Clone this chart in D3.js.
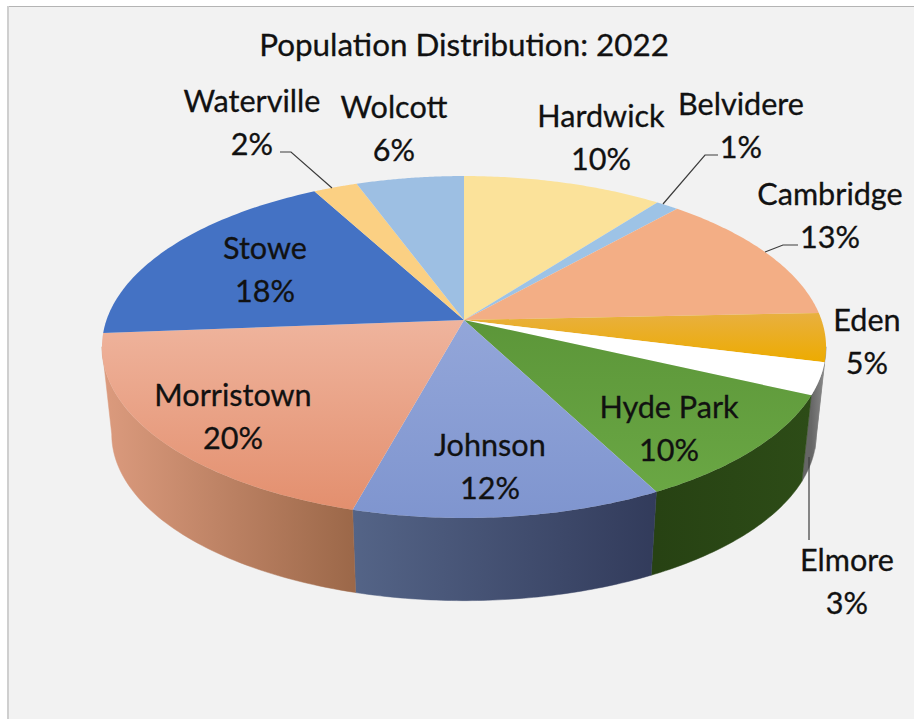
<!DOCTYPE html>
<html><head><meta charset="utf-8">
<style>html,body{margin:0;padding:0;background:#fff}svg{display:block}</style>
<script src="https://cdnjs.cloudflare.com/ajax/libs/d3/7.8.5/d3.min.js"></script>
</head><body><svg id="c" width="914" height="719"></svg>
<script>
const title = "Population Distribution: 2022";
const categories = ["Hardwick","Belvidere","Cambridge","Eden","Elmore","Hyde Park","Johnson","Morristown","Stowe","Waterville","Wolcott"];
const shares = [10.4,1.2,12.7,4.6,3.0,10.4,11.9,19.5,18.3,2.3,5.6];

const faceTop = ["#fbe29a","#9dc3e6","#f3ae85","#e8b040","#ffffff","#5c9639","#93a6d9","#efb49d","#4472c4","#fbd083","#9dbfe3"];
const faceBottom = ["#fbe29a","#9dc3e6","#f3ae85","#edab00","#ffffff","#6aa744","#7f95cf","#e38f6e","#4472c4","#fbd083","#9dbfe3"];
const wallLeft = ["#888","#888","#888","#888","#666666","#274213","#546487","#dc9b7e","#888","#888","#888"];
const wallRight = ["#888","#888","#888","#888","#8a8a8a","#2d4c17","#323b5b","#9c6849","#888","#888","#888"];

const labelAt = {
  "Hardwick":[601,127],"Belvidere":[741,115],"Cambridge":[830,205],"Eden":[867,331],"Elmore":[847,571],
  "Hyde Park":[669,418],"Johnson":[490,456],"Morristown":[233,406],"Stowe":[265,259],"Waterville":[252,112],"Wolcott":[394,118]
};
const leaders = [
  [[663,204],[705,155],[718,155]],
  [[765,252],[783,245],[798,245]],
  [[332,188],[291,152],[280,152]],
  [[809,457],[809,540]]
];

const svg = d3.select("#c");
const defs = svg.append("defs");
svg.append("rect").attr("x",8).attr("y",6).attr("width",906).attr("height",713).attr("fill","#f2f2f2");
svg.append("line").attr("x1",8).attr("x2",914).attr("y1",6.5).attr("y2",6.5).attr("stroke","#b4b4b4");
svg.append("line").attr("x1",8).attr("x2",8).attr("y1",6).attr("y2",719).attr("stroke","#cfcfcf").attr("stroke-width",2);

const cx=464, cy=320, A=357.5, B=166.7, K=0.158, inset=0.973, drop=88;
const project = (t,bottom) => {
  const u=Math.sin(t), v=Math.cos(t), w=1+K*v, s=bottom?inset:1;
  return [cx+s*A*u/w, cy-s*B*v/w+(bottom?drop:0)];
};
const arcPts = (a,b,bottom) => d3.range(0,61).map(i=>project(a+(b-a)*i/60,bottom));
const line = d3.line();
const arcs = d3.pie().sort(null).value(d=>d)(shares);

const wallA = Math.PI*99/180, wallB = Math.PI*261/180;
arcs.forEach((d,i)=>{
  const a=Math.max(d.startAngle,wallA), b=Math.min(d.endAngle,wallB);
  if(a>=b) return;
  const xs=[project(a)[0],project(b)[0]];
  const g=defs.append("linearGradient").attr("id","w"+i).attr("gradientUnits","userSpaceOnUse")
    .attr("x1",d3.min(xs)).attr("x2",d3.max(xs)).attr("y1",0).attr("y2",0);
  g.append("stop").attr("offset",0).attr("stop-color",wallLeft[i]);
  g.append("stop").attr("offset",1).attr("stop-color",wallRight[i]);
  svg.append("path").attr("d",line(arcPts(a,b,false).concat(arcPts(b,a,true)))+"Z")
    .attr("fill",`url(#w${i})`).attr("stroke",`url(#w${i})`).attr("stroke-width",0.5);
});

arcs.forEach((d,i)=>{
  const pts=[[cx,cy]].concat(arcPts(d.startAngle,d.endAngle,false));
  const ys=pts.map(p=>p[1]);
  const g=defs.append("linearGradient").attr("id","f"+i).attr("gradientUnits","userSpaceOnUse")
    .attr("x1",0).attr("x2",0).attr("y1",d3.min(ys)).attr("y2",d3.max(ys));
  g.append("stop").attr("offset",0).attr("stop-color",faceTop[i]);
  g.append("stop").attr("offset",1).attr("stop-color",faceBottom[i]);
  svg.append("path").attr("d",line(pts)+"Z").attr("fill",`url(#f${i})`);
});

leaders.forEach(l=>svg.append("path").attr("d",line(l)).attr("fill","none").attr("stroke","#3c3c3c").attr("stroke-width",1.2));

const font="Lato, 'Open Sans', sans-serif";
svg.append("text").attr("x",464).attr("y",56).attr("text-anchor","middle")
  .attr("font-family",font).attr("font-size",31.4).attr("fill","#111").attr("stroke","#111").attr("stroke-width",0.3).text(title);
categories.forEach((c,i)=>{
  const [x,y]=labelAt[c];
  const t=svg.append("text").attr("text-anchor","middle").attr("font-family",font).attr("font-size",30.6)
    .attr("fill","#111").attr("stroke","#111").attr("stroke-width",0.3);
  t.append("tspan").attr("x",x).attr("y",y).text(c);
  t.append("tspan").attr("x",x).attr("y",y+43).text(Math.round(shares[i])+"%");
});
</script></body></html>
